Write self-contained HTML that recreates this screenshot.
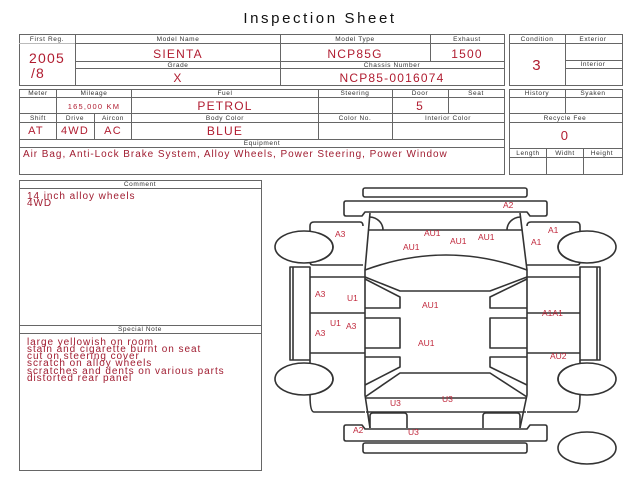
<!DOCTYPE html>
<html><head><meta charset="utf-8"><style>
html,body{margin:0;padding:0;background:#fff;width:640px;height:480px;overflow:hidden}
svg{display:block}
.h{font-family:"Liberation Sans",sans-serif;font-size:6.5px;fill:#333;text-anchor:middle;letter-spacing:0.6px}
.v{font-family:"Liberation Sans",sans-serif;fill:#b01c30;text-anchor:middle;letter-spacing:1.2px}
.l{font-family:"Liberation Sans",sans-serif;font-size:8.5px;fill:#c0283c}
.t{font-family:"Liberation Sans",sans-serif;font-size:10px;fill:#a01c30;letter-spacing:0.95px}
</style></head><body>
<svg width="640" height="480" viewBox="0 0 640 480" xmlns="http://www.w3.org/2000/svg">
<text x="320" y="23" font-family="Liberation Sans,sans-serif" font-size="15" letter-spacing="2.6" text-anchor="middle" fill="#111">Inspection Sheet</text>
<g fill="none" stroke="#666" stroke-width="1">
<rect x="19.5" y="34.5" width="485" height="51"/>
<line x1="75.5" y1="34" x2="75.5" y2="85"/>
<line x1="280.5" y1="34" x2="280.5" y2="85"/>
<line x1="430.5" y1="34" x2="430.5" y2="61"/>
<line x1="75" y1="43.5" x2="504" y2="43.5"/>
<line x1="75" y1="61.5" x2="504" y2="61.5"/>
<line x1="75" y1="68.5" x2="504" y2="68.5"/>
<line x1="19" y1="43.5" x2="75" y2="43.5" stroke="#bbb"/>
<rect x="509.5" y="34.5" width="113" height="51"/>
<line x1="565.5" y1="34" x2="565.5" y2="85"/>
<line x1="509" y1="43.5" x2="622" y2="43.5"/>
<line x1="565" y1="60.5" x2="622" y2="60.5"/>
<line x1="565" y1="68.5" x2="622" y2="68.5"/>
<rect x="19.5" y="89.5" width="485" height="85"/>
<line x1="19" y1="97.5" x2="504" y2="97.5"/>
<line x1="19" y1="113.5" x2="504" y2="113.5"/>
<line x1="19" y1="122.5" x2="504" y2="122.5"/>
<line x1="19" y1="139.5" x2="504" y2="139.5"/>
<line x1="19" y1="147.5" x2="504" y2="147.5"/>
<line x1="56.5" y1="89" x2="56.5" y2="139"/>
<line x1="131.5" y1="89" x2="131.5" y2="139"/>
<line x1="94.5" y1="113" x2="94.5" y2="139"/>
<line x1="318.5" y1="89" x2="318.5" y2="139"/>
<line x1="392.5" y1="89" x2="392.5" y2="139"/>
<line x1="448.5" y1="89" x2="448.5" y2="113"/>
<rect x="509.5" y="89.5" width="113" height="85"/>
<line x1="509" y1="97.5" x2="622" y2="97.5"/>
<line x1="509" y1="113.5" x2="622" y2="113.5"/>
<line x1="509" y1="122.5" x2="622" y2="122.5"/>
<line x1="565.5" y1="89" x2="565.5" y2="113"/>
<line x1="509" y1="148.5" x2="622" y2="148.5"/>
<line x1="509" y1="157.5" x2="622" y2="157.5"/>
<line x1="546.5" y1="148" x2="546.5" y2="174"/>
<line x1="583.5" y1="148" x2="583.5" y2="174"/>
<rect x="19.5" y="180.5" width="242" height="290"/>
<line x1="19" y1="188.5" x2="262" y2="188.5"/>
<line x1="19" y1="325.5" x2="262" y2="325.5"/>
<line x1="19" y1="333.5" x2="262" y2="333.5"/>
</g>
<g>
<text class="h" x="47" y="41">First Reg.</text>
<text class="h" x="178" y="41">Model Name</text>
<text class="h" x="355" y="41">Model Type</text>
<text class="h" x="467" y="41">Exhaust</text>
<text class="h" x="178" y="67">Grade</text>
<text class="h" x="392" y="67">Chassis Number</text>
<text class="h" x="537" y="41">Condition</text>
<text class="h" x="593" y="41">Exterior</text>
<text class="h" x="593" y="66">Interior</text>
<text class="h" x="38" y="95">Meter</text>
<text class="h" x="94" y="95">Mileage</text>
<text class="h" x="225" y="95">Fuel</text>
<text class="h" x="355" y="95">Steering</text>
<text class="h" x="420" y="95">Door</text>
<text class="h" x="476" y="95">Seat</text>
<text class="h" x="38" y="120">Shift</text>
<text class="h" x="75" y="120">Drive</text>
<text class="h" x="113" y="120">Aircon</text>
<text class="h" x="225" y="120">Body Color</text>
<text class="h" x="355" y="120">Color No.</text>
<text class="h" x="448" y="120">Interior Color</text>
<text class="h" x="262" y="145">Equipment</text>
<text class="h" x="537" y="95">History</text>
<text class="h" x="593" y="95">Syaken</text>
<text class="h" x="565" y="120">Recycle Fee</text>
<text class="h" x="528" y="155">Length</text>
<text class="h" x="565" y="155">Widht</text>
<text class="h" x="602" y="155">Height</text>
<text class="h" x="140" y="186">Comment</text>
<text class="h" x="140" y="331">Special Note</text>

<text class="v" x="47" y="63" font-size="14">2005</text>
<text class="v" x="38" y="78" font-size="14">/8</text>
<text class="v" x="178" y="58" font-size="12">SIENTA</text>
<text class="v" x="355" y="58" font-size="12">NCP85G</text>
<text class="v" x="467" y="58" font-size="12">1500</text>
<text class="v" x="178" y="82" font-size="12">X</text>
<text class="v" x="392" y="82" font-size="12">NCP85-0016074</text>
<text class="v" x="537" y="70" font-size="15">3</text>
<text class="v" x="94" y="109" font-size="7.5">165,000 KM</text>
<text class="v" x="225" y="110" font-size="12">PETROL</text>
<text class="v" x="420" y="110" font-size="12">5</text>
<text class="v" x="36" y="134" font-size="11">AT</text>
<text class="v" x="75" y="134" font-size="11">4WD</text>
<text class="v" x="113" y="134" font-size="11">AC</text>
<text class="v" x="225" y="135" font-size="12">BLUE</text>
<text class="v" x="565" y="140" font-size="13">0</text>
<text class="t" x="23" y="157">Air Bag, Anti-Lock Brake System, Alloy Wheels, Power Steering, Power Window</text>
<text class="t" x="27" y="199">14 inch alloy wheels</text>
<text class="t" x="27" y="206">4WD</text>
<text class="t" x="27" y="345">large yellowish on room</text>
<text class="t" x="27" y="352">stain and cigarette burnt on seat</text>
<text class="t" x="27" y="359">cut on steering cover</text>
<text class="t" x="27" y="366">scratch on alloy wheels</text>
<text class="t" x="27" y="374">scratches and dents on various parts</text>
<text class="t" x="27" y="381">distorted rear panel</text>
</g>
<g fill="none" stroke="#333" stroke-width="1.6" stroke-linejoin="round">
<rect x="363" y="188" width="164" height="9" rx="2"/>
<path d="M346,201 H545 Q547,201 547,203 V214 Q547,216 545,216 H530 L527,212 H365 L362,216 H346 Q344,216 344,214 V203 Q344,201 346,201 Z"/>
<rect x="363" y="443" width="164" height="10" rx="2"/>
<path d="M346,425 H362 L365,429 H527 L530,425 H545 Q547,425 547,427 V439 Q547,441 545,441 H346 Q344,441 344,439 V427 Q344,425 346,425 Z"/>
<path d="M370,213 L365,270 V395 L370,428"/>
<path d="M520,213 L527,270 V395 L520,428"/>
<line x1="368" y1="230" x2="522" y2="230"/>
<path d="M370,217 A14,13 0 0 1 383,230"/>
<path d="M520,217 A14,13 0 0 0 507,230"/>
<path d="M365,270 Q446,240 527,270"/>
<path d="M365,277 L400,291 H490 L527,277"/>
<path d="M365,397 L400,373 H490 L527,397"/>
<line x1="365" y1="398" x2="527" y2="398"/>
<line x1="366" y1="412" x2="526" y2="412"/>
<path d="M370,428 V416 Q370,413 373,413 H404 Q407,413 407,416 V428"/>
<path d="M520,428 V416 Q520,413 517,413 H486 Q483,413 483,416 V428"/>
<path d="M365,279 L400,297 V308 H365"/>
<path d="M365,318 H400 V348 H365"/>
<path d="M365,357 H400 V367 L365,385"/>
<path d="M527,279 L490,297 V308 H527"/>
<path d="M527,318 H490 V348 H527"/>
<path d="M527,357 H490 V367 L527,385"/>
<path d="M363,265 H313 Q310,265 310,262 V226 Q310,222 314,222 H360 Q363,222 363,226"/>
<path d="M290,267 V360 H310 V267 Z"/>
<line x1="293" y1="267" x2="293" y2="360"/>
<line x1="310" y1="277" x2="365" y2="277"/>
<line x1="310" y1="313" x2="365" y2="313"/>
<line x1="310" y1="353" x2="365" y2="353"/>
<path d="M310,360 V395 Q310,412 314,412 H365"/>
<ellipse cx="304" cy="247" rx="29" ry="16" fill="#fff"/>
<path d="M318,233 A29,16 0 0 1 318,261"/>
<ellipse cx="304" cy="379" rx="29" ry="16" fill="#fff"/>
<path d="M318,365 A29,16 0 0 1 318,393"/>
<path d="M527,265 H577 Q580,265 580,262 V226 Q580,222 576,222 H531 Q527,222 527,226"/>
<path d="M580,267 V360 H600 V267 Z"/>
<line x1="597" y1="267" x2="597" y2="360"/>
<line x1="527" y1="277" x2="580" y2="277"/>
<line x1="527" y1="313" x2="580" y2="313"/>
<line x1="527" y1="353" x2="580" y2="353"/>
<path d="M580,360 V395 Q580,412 576,412 H527"/>
<ellipse cx="587" cy="247" rx="29" ry="16" fill="#fff"/>
<path d="M573,233 A29,16 0 0 0 573,261"/>
<ellipse cx="587" cy="379" rx="29" ry="16" fill="#fff"/>
<path d="M573,365 A29,16 0 0 0 573,393"/>
<ellipse cx="587" cy="448" rx="29" ry="16"/>
</g>
<g>
<text class="l" x="503" y="208">A2</text>
<text class="l" x="335" y="237">A3</text>
<text class="l" x="424" y="236">AU1</text>
<text class="l" x="450" y="244">AU1</text>
<text class="l" x="478" y="240">AU1</text>
<text class="l" x="403" y="250">AU1</text>
<text class="l" x="548" y="233">A1</text>
<text class="l" x="531" y="245">A1</text>
<text class="l" x="315" y="297">A3</text>
<text class="l" x="347" y="301">U1</text>
<text class="l" x="422" y="308">AU1</text>
<text class="l" x="330" y="326">U1</text>
<text class="l" x="346" y="329">A3</text>
<text class="l" x="315" y="336">A3</text>
<text class="l" x="542" y="316">A1A1</text>
<text class="l" x="418" y="346">AU1</text>
<text class="l" x="550" y="359">AU2</text>
<text class="l" x="390" y="406">U3</text>
<text class="l" x="442" y="402">U3</text>
<text class="l" x="353" y="433">A2</text>
<text class="l" x="408" y="435">U3</text>
</g>
</svg>
</body></html>
